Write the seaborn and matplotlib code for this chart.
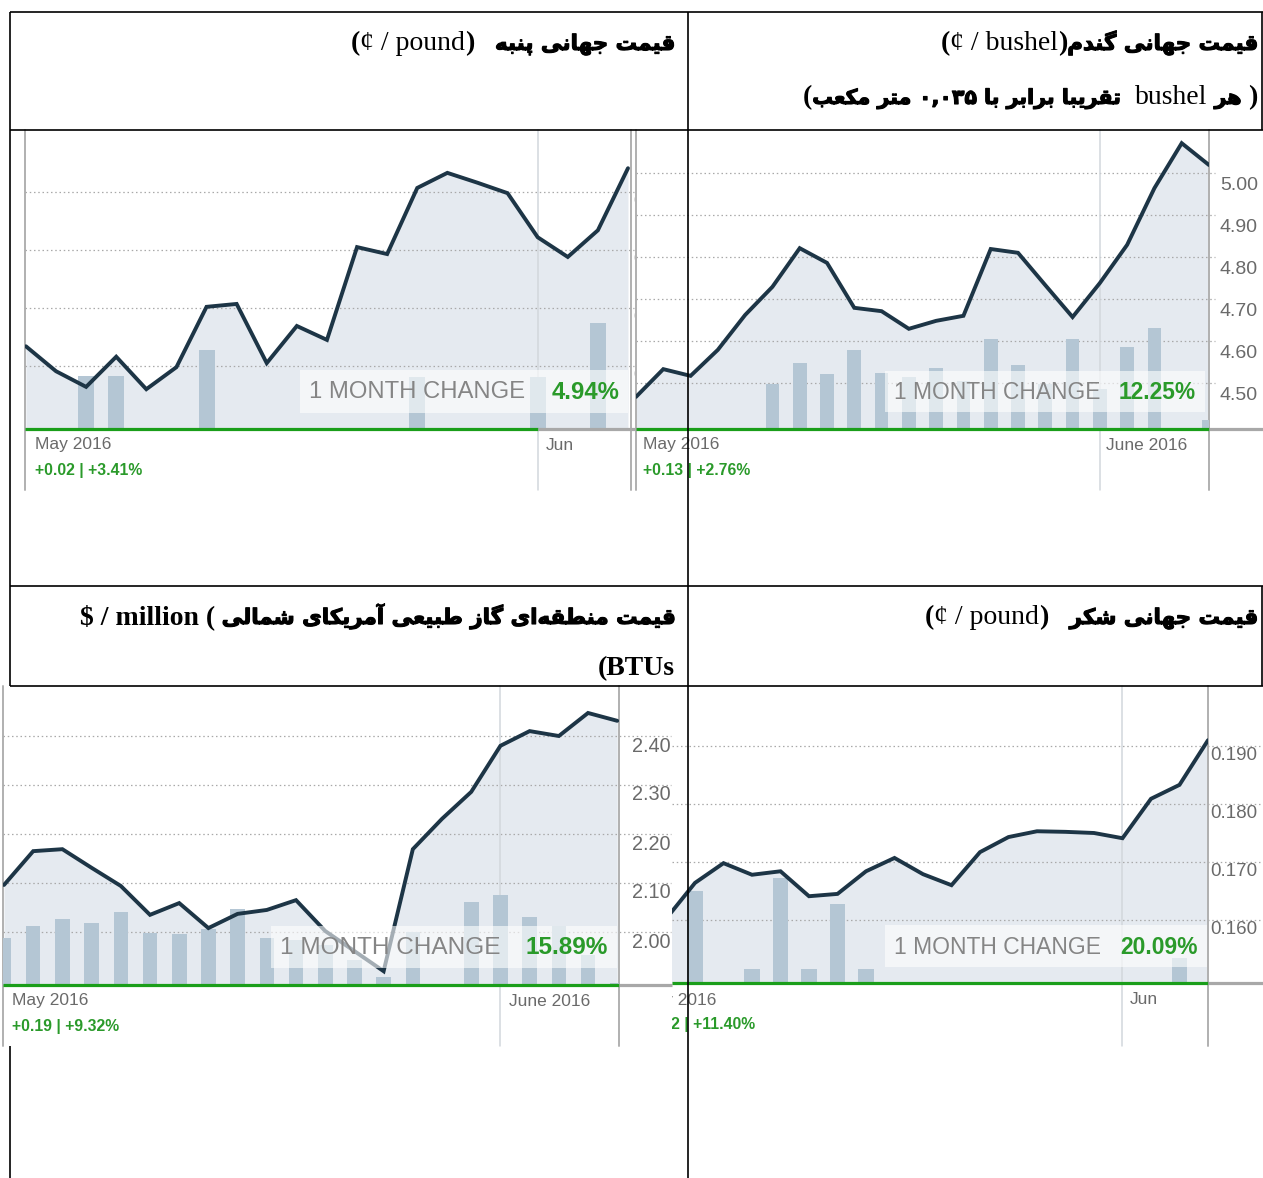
import numpy as np
import pandas as pd
import matplotlib
matplotlib.use("Agg")
import matplotlib.pyplot as plt
import matplotlib.patheffects as pe
import seaborn as sns
from matplotlib.lines import Line2D
from matplotlib.patches import Rectangle
from matplotlib.transforms import Bbox

sns.set_theme(style="white")
plt.rcParams["font.family"] = ["Liberation Sans", "DejaVu Sans"]

# ---------------- data ----------------
cotton_price = [0.6034, 0.5991, 0.5964, 0.6016, 0.5960, 0.5998, 0.6102, 0.6107, 0.6005, 0.6069,
                0.6045, 0.6205, 0.6193, 0.6307, 0.6333, 0.6316, 0.6298, 0.6222, 0.6188, 0.6234, 0.6341]
cotton_volume = [0, 0, 53, 53, 0, 0, 79, 0, 0, 0, 0, 0, 0, 52, 0, 0, 0, 52, 0, 106, 0]
cotton_ticks = [0.60, 0.61, 0.62, 0.63]
cotton_tick_labels = ["0.60", "0.61", "0.62", "0.63"]

wheat_price = [4.467, 4.533, 4.517, 4.579, 4.662, 4.729, 4.821, 4.786, 4.679, 4.671, 4.629,
               4.648, 4.660, 4.819, 4.810, 4.733, 4.657, 4.738, 4.829, 4.964, 5.071, 5.019]
wheat_volume = [0, 0, 0, 0, 0, 45, 66, 55, 79, 56, 52, 61, 48, 90, 64, 45, 90, 40, 82, 101, 0, 9]
wheat_ticks = [4.50, 4.60, 4.70, 4.80, 4.90, 5.00]
wheat_tick_labels = ["4.50", "4.60", "4.70", "4.80", "4.90", "5.00"]

gas_price = [2.096, 2.165, 2.169, 2.131, 2.094, 2.035, 2.059, 2.008, 2.037, 2.045, 2.065,
             2.002, 1.961, 1.920, 2.169, 2.231, 2.286, 2.380, 2.410, 2.400, 2.447, 2.431]
gas_volume = [47, 59, 66, 62, 73, 52, 51, 56, 76, 47, 45, 40, 25, 8, 53, 0, 83, 90, 68, 59, 30, 2]
gas_ticks = [2.00, 2.10, 2.20, 2.30, 2.40]
gas_tick_labels = ["2.00", "2.10", "2.20", "2.30", "2.40"]

sugar_price = [0.1603, 0.1664, 0.1698, 0.1678, 0.1684, 0.1641, 0.1645, 0.1684, 0.1707, 0.1679,
               0.1660, 0.1717, 0.1743, 0.1753, 0.1752, 0.1750, 0.1741, 0.1809, 0.1833, 0.1910]
sugar_volume = [0, 92, 0, 14, 105, 14, 79, 14, 0, 0, 0, 0, 0, 0, 0, 0, 0, 0, 25, 0]
sugar_ticks = [0.160, 0.170, 0.180, 0.190]
sugar_tick_labels = ["0.160", "0.170", "0.180", "0.190"]

month_labels = {"cotton": ("May 2016", "Jun"), "wheat": ("May 2016", "June 2016"),
                "gas": ("May 2016", "June 2016"), "sugar": ("May 2016", "Jun")}
day_stats = {"cotton": "+0.02 | +3.41%", "wheat": "+0.13 | +2.76%",
             "gas": "+0.19 | +9.32%", "sugar": "+0.02 | +11.40%"}
month_change = {"cotton": "4.94%", "wheat": "12.25%", "gas": "15.89%", "sugar": "20.09%"}
change_label = "1 MONTH CHANGE"

# ---------------- styling ----------------
W, H = 1263, 1178
LINE = "#1d3546"
FILL = "#e5eaf0"
BAR = "#b4c6d4"
GRID = "#a9a9a9"
GREEN = "#1a9e1a"
GREEN_TXT = "#2a9a2a"
AXTXT = "#6a6a6a"
EDGE = "#b0b0b0"
JUNE = "#d2d7dc"

fig = plt.figure(figsize=(W / 100, H / 100), dpi=100)
fig.patch.set_facecolor("white")


def fx(x):
    return x / W


def fy(y):
    return 1 - y / H


def fline(xs, ys, **kw):
    fig.add_artist(Line2D([fx(x) for x in xs], [fy(y) for y in ys],
                          transform=fig.transFigure, **kw))


def clipbox(x0, y0, x1, y1):
    return Bbox([[x0, H - y1], [x1, H - y0]])


def ftext(x, y, s, clip=None, **kw):
    t = fig.text(fx(x), fy(y), s, **kw)
    if clip is not None:
        t.set_clip_box(clipbox(*clip))
        t.set_clip_on(True)
    return t


def ylim_from(top, base, ref_y, ref_v, px_per_unit):
    return (ref_v - (base - ref_y) / px_per_unit, ref_v + (ref_y - top) / px_per_unit)


rect_ylim = {
    "cotton": ylim_from(130, 429, 366, 0.60, 5800),
    "wheat": ylim_from(130, 429, 173, 5.00, 420),
    "gas": ylim_from(686, 985, 736, 2.40, 490),
    "sugar": ylim_from(686, 983, 746, 0.190, 5800),
}


def draw_chart(key, price, volume, ticks, tick_labels, rect, xlim, img_bottom,
               june_idx, green_end, gray_end, grid_end, label_x, label_dy, label_size,
               edges, box, mc_size, bar_w, month_pos, stat_pos, clip=None):
    x0, top, x1, base = rect
    pos = [fx(x0), fy(base), (x1 - x0) / W, (base - top) / H]
    idx = np.arange(len(price))
    df = pd.DataFrame({"day": idx, "price": price, "volume": volume})
    ext = -(img_bottom - base) / (base - top)
    ylim = rect_ylim[key]

    # back: fill, grid, vertical rules
    ax_b = fig.add_axes(pos)
    ax_b.set_xlim(xlim)
    ax_b.set_ylim(ylim)
    ax_b.axis("off")
    ax_b.fill_between(df["day"], df["price"], ylim[0], color=FILL, lw=0, zorder=1)
    gx = 1 + (grid_end - x1) / (x1 - x0)
    for v in ticks:
        ax_b.axhline(v, xmin=0, xmax=gx, color=GRID, lw=0.9, ls=(0, (1.2, 2.2)),
                     clip_on=False, zorder=2)
    ax_b.axvline(june_idx, ymin=ext, ymax=1, color=JUNE, lw=1.1, clip_on=False, zorder=2)
    for e in edges:
        ax_b.axvline(e, ymin=ext, ymax=1, color=EDGE, lw=1.4, clip_on=False, zorder=2)

    # middle: volume bars
    ax_v = fig.add_axes(pos)
    sns.barplot(data=df, x="day", y="volume", ax=ax_v, color=BAR, width=bar_w,
                saturation=1, errorbar=None, linewidth=0)
    ax_v.set_xlim(xlim)
    ax_v.set_ylim(0, base - top)
    ax_v.axis("off")

    # front: price line
    ax_f = fig.add_axes(pos)
    sns.lineplot(data=df, x="day", y="price", ax=ax_f, color=LINE, lw=2.8)
    ax_f.set_xlim(xlim)
    ax_f.set_ylim(ylim)
    ax_f.axis("off")
    for ln in ax_f.lines:
        ln.set_solid_joinstyle("miter")

    # base line
    fline([x0, green_end], [base, base], color=GREEN, lw=2.3, zorder=4, solid_capstyle="butt")
    fline([green_end, gray_end], [base, base], color="#a8a8a8", lw=2.3, zorder=4,
          solid_capstyle="butt")

    # price labels on the right
    for v, lab in zip(ticks, tick_labels):
        t = ax_b.annotate(lab, xy=(1, v), xycoords=("axes fraction", "data"),
                          xytext=(label_x - x1, -label_dy), textcoords="offset pixels",
                          ha="left", va="center", fontsize=label_size, color=AXTXT,
                          family="Liberation Sans", annotation_clip=False)
        if clip is not None:
            t.set_clip_box(clipbox(*clip))
            t.set_clip_on(True)

    # month labels and day change
    m1, m2 = month_labels[key]
    ftext(month_pos[0], month_pos[2], m1, ha="left", va="center", fontsize=12.5,
          color=AXTXT, clip=clip)
    ftext(month_pos[1], month_pos[2], m2, ha="left", va="center", fontsize=12.5,
          color=AXTXT, clip=clip)
    ftext(stat_pos[0], stat_pos[1], day_stats[key], ha="left", va="center", fontsize=11.3,
          weight="bold", color=GREEN_TXT, clip=clip)

    # 1 month change box
    bx0, by0, bx1, by1 = box
    fig.add_artist(Rectangle((fx(bx0), fy(by1)), (bx1 - bx0) / W, (by1 - by0) / H,
                             transform=fig.transFigure, facecolor="white", alpha=0.6,
                             lw=0, zorder=5))
    yc = (by0 + by1) / 2 + 1
    ftext(bx0 + 9, yc, change_label, ha="left", va="center", fontsize=mc_size,
          color="#858585", zorder=6)
    ftext(bx1 - 9, yc, month_change[key], ha="right", va="center", fontsize=mc_size,
          weight="bold", color=GREEN_TXT, zorder=6)


draw_chart("cotton", cotton_price, cotton_volume, cotton_ticks, cotton_tick_labels,
           rect=(25, 130, 631, 429), xlim=(-0.03, 20.1), img_bottom=490, june_idx=17.0,
           green_end=538, gray_end=635, grid_end=634, label_x=633, label_dy=10,
           label_size=14, edges=(-0.03, 20.1), box=(300, 370, 628, 413), mc_size=17.2,
           bar_w=0.53, month_pos=(35, 546, 445), stat_pos=(35, 470),
           clip=(0, 0, 635, H))

draw_chart("wheat", wheat_price, wheat_volume, wheat_ticks, wheat_tick_labels,
           rect=(636, 130, 1209, 429), xlim=(0, 21), img_bottom=490, june_idx=17.0,
           green_end=1209, gray_end=1263, grid_end=1215, label_x=1220, label_dy=12,
           label_size=14, edges=(0, 21), box=(885, 371, 1205, 412), mc_size=16.4,
           bar_w=0.5, month_pos=(643, 1106, 445), stat_pos=(643, 470))

draw_chart("gas", gas_price, gas_volume, gas_ticks, gas_tick_labels,
           rect=(3, 686, 619, 985), xlim=(-0.034, 21.06), img_bottom=1046, june_idx=17.0,
           green_end=619, gray_end=672, grid_end=671, label_x=632, label_dy=10,
           label_size=14.3, edges=(-0.034, 21.06), box=(271, 926, 617, 968), mc_size=17.6,
           bar_w=0.5, month_pos=(12, 509, 1001), stat_pos=(12, 1026))

draw_chart("sugar", sugar_price, sugar_volume, sugar_ticks, sugar_tick_labels,
           rect=(672, 686, 1208, 983), xlim=(0.193, 19), img_bottom=1046, june_idx=16.0,
           green_end=1208, gray_end=1263, grid_end=1260, label_x=1210, label_dy=10,
           label_size=13.5, edges=(19,), box=(885, 925, 1207, 967), mc_size=16.5,
           bar_w=0.53, month_pos=(640, 1130, 1000), stat_pos=(640, 1024),
           clip=(672, 0, W, H))

# ---------------- table rules ----------------
TK = dict(color="black", lw=1.2, zorder=10, solid_capstyle="butt")
for yy in (12, 130, 586, 686):
    fline([10, 1263], [yy, yy], **TK)
fline([10, 10], [12, 686], **TK)
fline([10, 10], [1046, 1178], **TK)
fline([688, 688], [12, 1178], **TK)
fline([1262, 1262], [12, 130], **TK)
fline([1262, 1262], [586, 686], **TK)

# ---------------- Persian headers ----------------
FORMS = {
    "ا": (0xFE8D, 0xFE8E, None, None), "آ": (0xFE81, 0xFE82, None, None),
    "ب": (0xFE8F, 0xFE90, 0xFE91, 0xFE92), "پ": (0xFB56, 0xFB57, 0xFB58, 0xFB59),
    "ت": (0xFE95, 0xFE96, 0xFE97, 0xFE98), "ج": (0xFE9D, 0xFE9E, 0xFE9F, 0xFEA0),
    "د": (0xFEA9, 0xFEAA, None, None), "ر": (0xFEAD, 0xFEAE, None, None),
    "ز": (0xFEAF, 0xFEB0, None, None), "ش": (0xFEB5, 0xFEB6, 0xFEB7, 0xFEB8),
    "ط": (0xFEC1, 0xFEC2, 0xFEC3, 0xFEC4), "ع": (0xFEC9, 0xFECA, 0xFECB, 0xFECC),
    "ق": (0xFED5, 0xFED6, 0xFED7, 0xFED8), "ک": (0xFB8E, 0xFB8F, 0xFB90, 0xFB91),
    "گ": (0xFB92, 0xFB93, 0xFB94, 0xFB95), "ل": (0xFEDD, 0xFEDE, 0xFEDF, 0xFEE0),
    "م": (0xFEE1, 0xFEE2, 0xFEE3, 0xFEE4), "ن": (0xFEE5, 0xFEE6, 0xFEE7, 0xFEE8),
    "ه": (0xFEE9, 0xFEEA, 0xFEEB, 0xFEEC), "ی": (0xFBFC, 0xFBFD, 0xFBFE, 0xFBFF),
}


def joins_next(c):
    return c in FORMS and FORMS[c][2] is not None


def shape(s):
    out = []
    for i, c in enumerate(s):
        if c not in FORMS:
            if c != "\u200c":
                out.append(c)
            continue
        prev = s[i - 1] if i > 0 else ""
        nxt = s[i + 1] if i + 1 < len(s) else ""
        jp = joins_next(prev)
        jn = joins_next(c) and nxt in FORMS
        iso, fin, ini, med = FORMS[c]
        f = med if (jp and jn) else fin if jp else ini if jn else iso
        out.append(chr(f))
    return "".join(reversed(out))


HEAVY = [pe.withStroke(linewidth=0.8, foreground="black")]
PB = dict(family=["DejaVu Sans"], weight="bold", fontsize=15.4, color="black",
          path_effects=HEAVY)
PB2 = dict(family=["DejaVu Sans"], weight="bold", fontsize=14.8, color="black",
           path_effects=HEAVY)
SR = dict(family=["Liberation Serif"], fontsize=20, color="black")
SB = dict(family=["Liberation Serif"], weight="bold", fontsize=20, color="black")

renderer = fig.canvas.get_renderer()


def row(segs, x_right, y_base):
    x = x_right
    for text, kw in reversed(segs):
        t = ftext(x, y_base, text, ha="right", va="baseline", zorder=8, **kw)
        x = t.get_window_extent(renderer).x0


title_wheat = "قیمت جهانی گندم"
note_wheat = ("هر", "تقریبا برابر با", "۰,۰۳۵", "متر مکعب")
title_cotton = "قیمت جهانی پنبه"
title_gas = "قیمت منطقه‌ای گاز طبیعی آمریکای شمالی"
title_sugar = "قیمت جهانی شکر"

row([("(", SB), ("¢ / bushel", SR), (")", SB), (shape(title_wheat), PB)], 1258, 50)
row([("(", SB), (shape(note_wheat[3]), PB2), (" ", PB2), (note_wheat[2], PB2), (" ", PB2),
     (shape(note_wheat[1]), PB2), ("  ", SR), ("bushel", SR), (" ", SR),
     (shape(note_wheat[0]), PB2), (" )", SB)], 1258, 104)
row([("(", SB), ("¢ / pound", SR), (")", SB), ("   ", SR), (shape(title_cotton), PB)], 675, 50)
row([("(", SB), ("¢ / pound", SR), (")", SB), ("   ", SR), (shape(title_sugar), PB)], 1258, 624)
row([("$ / million (", SB), (" ", SB), (shape(title_gas), PB)], 675, 624)
row([("(BTUs", SB)], 675, 675)

fig.savefig("out.png", dpi=100, facecolor="white")
